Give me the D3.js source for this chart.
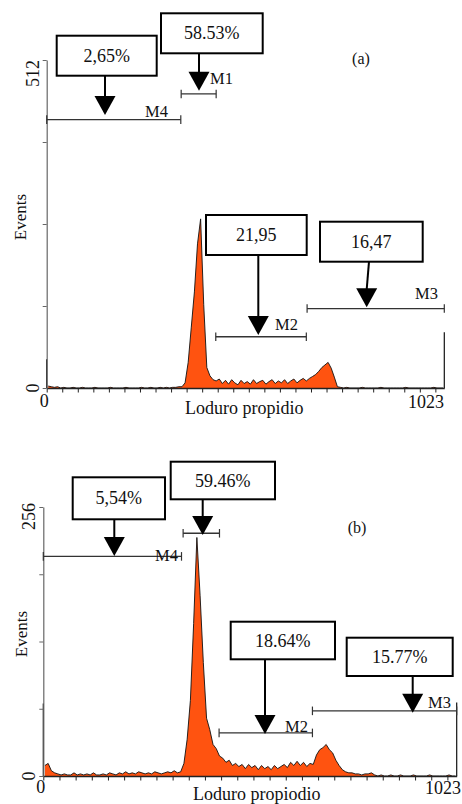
<!DOCTYPE html>
<html>
<head>
<meta charset="utf-8">
<script src="https://cdn.jsdelivr.net/npm/d3@7"></script>
<style>
  body { margin: 0; background: #fff; }
  text { font-family: "Liberation Serif", "Times New Roman", serif; fill: #111; }
</style>
</head>
<body>
<div id="chart"></div>
<script>

// Histogram counts, 128 bins of 8 channels each (channels 0..1023)
const countsA = [
  3, 2, 1, 2, 0, 1, 0, 0, 1, 0, 0, 1, 0, 0, 0, 1,
  0, 0, 0, 0, 1, 0, 0, 0, 0, 1, 0, 0, 0, 0, 1, 0,
  0, 1, 0, 0, 1, 0, 1, 0, 1, 1, 2, 2, 8, 40, 95, 150,
  225, 264, 130, 32, 19, 13, 11, 14, 7, 12, 6, 13, 8, 5, 12, 7,
  10, 6, 13, 7, 10, 12, 6, 10, 13, 7, 11, 8, 13, 7, 11, 14,
  8, 12, 15, 11, 15, 18, 21, 26, 32, 36, 40, 31, 17, 2, 1, 0,
  1, 0, 0, 0, 0, 1, 0, 0, 0, 0, 0, 1, 0, 0, 0, 0,
  0, 0, 0, 1, 0, 0, 0, 0, 0, 0, 0, 0, 1, 0, 0, 0
];
const countsB = [
  10, 12, 5, 3, 2, 1, 2, 1, 1, 3, 1, 2, 1, 2, 1, 3,
  1, 1, 2, 1, 3, 2, 1, 3, 2, 4, 2, 3, 2, 4, 3, 2,
  3, 2, 4, 3, 2, 3, 4, 3, 5, 3, 4, 12, 35, 72, 145, 227,
  172, 108, 55, 44, 30, 26, 19, 17, 13, 15, 10, 12, 9, 11, 7, 11,
  8, 10, 6, 10, 7, 9, 6, 10, 7, 9, 11, 8, 13, 10, 14, 10,
  13, 9, 12, 11, 20, 25, 27, 30, 25, 22, 15, 10, 6, 4, 3, 3,
  2, 2, 1, 2, 2, 3, 1, 0, 1, 0, 0, 1, 0, 0, 1, 0,
  0, 0, 1, 0, 0, 0, 0, 1, 0, 0, 0, 0, 0, 1, 0, 0
];
// counts in the first (0) and last (1023) channel
const edgeA = [45, 87];
const edgeB = [69, 70];

// Markers: name, channel range, height (in counts) and percentage
const markerNames = ["M4", "M1", "M2", "M3"];
const markerFromA = [0, 346, 435, 670];
const markerToA = [345, 436, 668, 1023];
const markerLevelA = [419, 459, 80, 124];
const percentA = ["2,65%", "58.53%", "21,95", "16,47"];

const markerFromB = [0, 346, 435, 666];
const markerToB = [342, 436, 666, 1023];
const markerLevelB = [209, 231, 41, 62];
const percentB = ["5,54%", "59.46%", "18.64%", "15.77%"];

const yMaxA = 512;
const yMaxB = 256;
const xMax = 1023;

const svg = d3.select("#chart")
  .append("svg")
  .attr("width", 462)
  .attr("height", 804);

// layout of each panel (pixels)
const panels = [
  {
    counts: countsA, edges: edgeA, yMax: yMaxA, yStep: 128,
    from: markerFromA, to: markerToA, level: markerLevelA, percent: percentA,
    left: 46.7, right: 444.3, bottom: 388, top: 60,
    tag: "(a)", tagPos: [361, 64],
    xTitle: "Loduro propidio", xTitlePos: [185, 414],
    yTitlePos: [26, 217],
    maxLabelY: 60, oneLabelPos: [444, 408],
    boxes: [[56.7, 35.7, 100, 40], [161, 13.3, 101.7, 40], [206, 215, 100.7, 40], [320, 221.7, 102.7, 40]],
    arrows: [[105, 105, 115], [199, 199, 90.7], [258.3, 258.3, 335], [369, 366.7, 307.3]],
    labels: [[145, 116.7], [210, 84], [275, 330], [415, 299.3]],
    showLabel: [true, true, true, true]
  },
  {
    counts: countsB, edges: edgeB, yMax: yMaxB, yStep: 64,
    from: markerFromB, to: markerToB, level: markerLevelB, percent: percentB,
    left: 43.3, right: 456.7, bottom: 776, top: 507,
    tag: "(b)", tagPos: [357, 533],
    xTitle: "Loduro propiodio", xTitlePos: [193, 800],
    yTitlePos: [27, 634],
    maxLabelY: 503, oneLabelPos: [461, 794],
    boxes: [[72.7, 477.3, 92.3, 42], [170.7, 461.7, 104.3, 37.6], [230.7, 621.7, 104.3, 37.6], [346.7, 637.7, 106, 38.3]],
    arrows: [[114.3, 114.3, 556], [202.7, 202.7, 535], [265, 265, 734], [412.7, 412.7, 712.7]],
    labels: [[155, 561], [0, 0], [285, 731.7], [428, 707.7]],
    showLabel: [true, false, true, true]
  }
];

panels.forEach(function(p) {
  const g = svg.append("g");

  const x = d3.scaleLinear().domain([0, xMax]).range([p.left, p.right]);
  const y = d3.scaleLinear().domain([0, p.yMax]).range([p.bottom, p.top]);

  // histogram
  const area = d3.area()
    .x((d, i) => x(i * 8 + 4))
    .y0(y(0))
    .y1(d => y(d));
  const line = d3.line()
    .x((d, i) => x(i * 8 + 4))
    .y(d => y(d));

  g.append("path")
    .datum(p.counts)
    .attr("d", area)
    .attr("fill", "#ff5310");
  g.append("path")
    .datum(p.counts)
    .attr("d", line)
    .attr("fill", "none")
    .attr("stroke", "#111")
    .attr("stroke-width", 0.9);

  // first and last channel spikes
  g.selectAll(".edge")
    .data([0, xMax])
    .enter()
    .append("line")
      .attr("x1", d => x(d))
      .attr("x2", d => x(d))
      .attr("y1", y(0))
      .attr("y2", (d, i) => y(p.edges[i]))
      .attr("stroke", "#111")
      .attr("stroke-width", 1.2);

  // x axis
  g.append("g")
    .attr("transform", `translate(0,${p.bottom})`)
    .call(d3.axisBottom(x)
      .tickValues(d3.range(0, xMax, 40))
      .tickFormat("")
      .tickSize(4.5)
      .tickSizeOuter(0))
    .call(a => a.selectAll("line").attr("stroke", "#222"))
    .call(a => a.select(".domain").attr("stroke", "#222").attr("stroke-width", 1.4));

  // y axis
  g.append("g")
    .attr("transform", `translate(${p.left},0)`)
    .call(d3.axisLeft(y)
      .tickValues(d3.range(0, p.yMax + 1, p.yStep))
      .tickFormat("")
      .tickSize(4)
      .tickSizeOuter(0))
    .call(a => a.selectAll("line").attr("stroke", "#666"))
    .call(a => a.select(".domain").attr("stroke", "#666").attr("stroke-width", 1.2));

  // y tick labels (rotated)
  g.append("text")
    .attr("transform", `translate(${p.left - 8},${y(0)}) rotate(-90)`)
    .attr("text-anchor", "middle")
    .attr("font-size", "18px")
    .text("0");
  g.append("text")
    .attr("transform", `translate(${p.left - 8},${p.maxLabelY}) rotate(-90)`)
    .attr("text-anchor", "end")
    .attr("font-size", "18px")
    .text(p.yMax);

  // x tick labels
  g.append("text")
    .attr("x", x(0) - 2.5)
    .attr("y", p.oneLabelPos[1] - 1)
    .attr("text-anchor", "middle")
    .attr("font-size", "18px")
    .text("0");
  g.append("text")
    .attr("x", p.oneLabelPos[0])
    .attr("y", p.oneLabelPos[1])
    .attr("text-anchor", "end")
    .attr("font-size", "18px")
    .text(xMax);

  // axis titles
  g.append("text")
    .attr("x", p.xTitlePos[0])
    .attr("y", p.xTitlePos[1])
    .attr("font-size", "18px")
    .text(p.xTitle);
  g.append("text")
    .attr("transform", `translate(${p.yTitlePos[0]},${p.yTitlePos[1]}) rotate(-90)`)
    .attr("text-anchor", "middle")
    .attr("font-size", "17px")
    .text("Events");

  g.append("text")
    .attr("x", p.tagPos[0])
    .attr("y", p.tagPos[1])
    .attr("text-anchor", "middle")
    .attr("font-size", "16px")
    .text(p.tag);

  // markers
  markerNames.forEach(function(name, i) {
    const my = y(p.level[i]);
    const mx1 = x(p.from[i]);
    const mx2 = x(p.to[i]);
    g.append("line")
      .attr("x1", mx1).attr("x2", mx2)
      .attr("y1", my).attr("y2", my)
      .attr("stroke", "#333").attr("stroke-width", 1.3);
    [mx1, mx2].forEach(function(ex) {
      g.append("line")
        .attr("x1", ex).attr("x2", ex)
        .attr("y1", my - 4.3).attr("y2", my + 4.3)
        .attr("stroke", "#333").attr("stroke-width", 1.2);
    });
    if (p.showLabel[i]) {
      g.append("text")
        .attr("x", p.labels[i][0])
        .attr("y", p.labels[i][1])
        .attr("font-size", "16.5px")
        .text(name);
    }

    // callout box with arrow
    const b = p.boxes[i];
    const a = p.arrows[i];
    g.append("rect")
      .attr("x", b[0]).attr("y", b[1])
      .attr("width", b[2]).attr("height", b[3])
      .attr("fill", "#fff")
      .attr("stroke", "#000")
      .attr("stroke-width", 2);
    g.append("text")
      .attr("x", b[0] + b[2] / 2)
      .attr("y", b[1] + b[3] / 2 + 6)
      .attr("text-anchor", "middle")
      .attr("font-size", "18px")
      .text(p.percent[i]);
    const tipY = a[2];
    const headH = 19;
    g.append("line")
      .attr("x1", a[0]).attr("y1", b[1] + b[3])
      .attr("x2", a[1]).attr("y2", tipY - headH + 1)
      .attr("stroke", "#000").attr("stroke-width", 2);
    g.append("path")
      .attr("d", `M${a[1] - 10.5},${tipY - headH} L${a[1] + 10.5},${tipY - headH} L${a[1]},${tipY} Z`)
      .attr("fill", "#000");
  });
});

</script>
</body>
</html>
